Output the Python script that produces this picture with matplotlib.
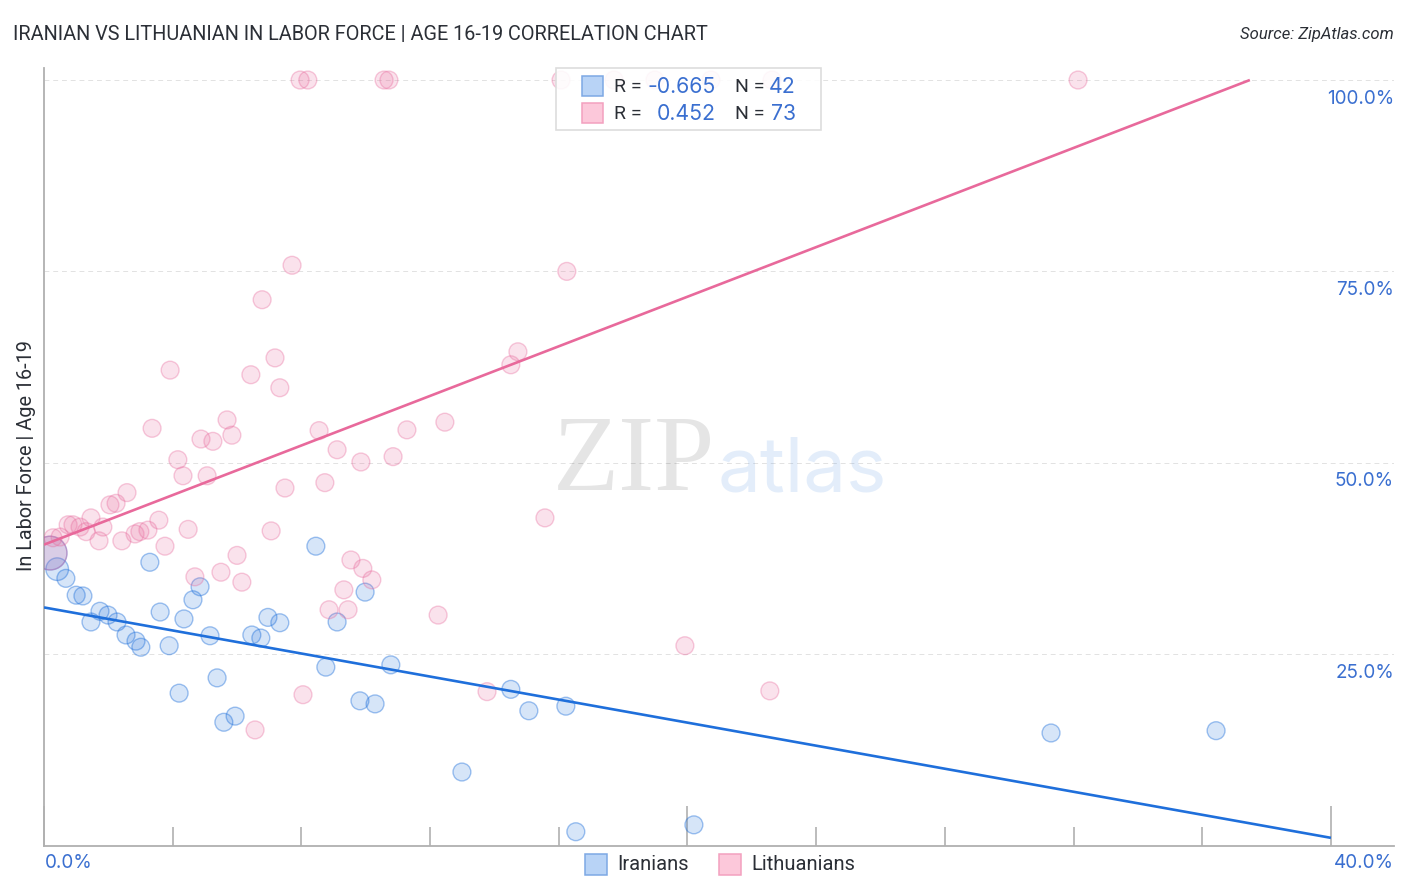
import numpy as np
import matplotlib
matplotlib.use("Agg")
import matplotlib.pyplot as plt
from matplotlib.patches import Rectangle

# ---- data ----
iranian_x = [0.19,0.41,0.68,1.0,1.21,1.46,1.74,1.99,2.27,2.55,2.86,3.01,3.29,3.61,3.89,4.2,4.35,4.63,4.85,5.16,5.38,5.59,5.94,6.46,6.74,6.96,7.33,8.45,8.76,9.11,9.82,9.98,10.29,10.78,12.99,14.51,15.07,16.22,16.53,20.2,31.3,36.43]
iranian_y = [38.2,36.1,34.9,32.7,32.6,29.2,30.6,30.1,29.2,27.5,26.7,25.9,37.0,30.5,26.1,19.9,29.6,32.1,33.8,27.4,21.9,16.1,16.9,27.5,27.1,29.8,29.1,39.1,23.3,29.2,18.9,33.1,18.5,23.6,9.6,20.4,17.6,18.2,1.8,2.7,14.7,15.0]
lith_x = [0.19,0.28,0.5,2.58,2.05,2.24,1.46,0.75,0.9,1.12,1.31,1.83,1.71,2.42,2.83,2.98,3.23,3.57,3.76,
          7.71,6.78,16.25,7.18,6.43,7.33,3.92,14.73,14.51,5.69,3.36,5.84,4.88,5.25,8.55,12.46,11.28,9.11,9.85,10.85,4.16,4.32,5.07,8.73,7.49,15.57,4.48,7.06,19.92,22.56,13.77,12.25,10.19,9.91,9.54,9.32,8.86,9.45,5.5,6.0,6.15,4.69,6.56,8.05,
          7.96,8.2,10.57,10.72,16.07,17.72,18.99,20.73,22.63,32.14]
lith_y = [38.2,40.2,40.3,46.1,44.5,44.7,42.8,41.9,41.9,41.6,41.0,41.6,39.8,39.8,40.7,41.0,41.2,42.5,39.1,
          75.8,71.3,75.0,63.7,61.5,59.8,62.1,64.5,62.8,55.6,54.5,53.6,53.1,52.8,54.2,55.3,54.3,51.7,50.1,50.8,50.4,48.3,48.3,47.4,46.7,42.8,41.3,41.1,26.1,20.2,20.1,30.1,34.7,36.2,37.3,33.4,30.8,30.8,35.7,37.9,34.4,35.1,15.1,19.7,
          100,100,100,100,100,100,100,100,100,100]
iranian_fit_x = [0, 40]
iranian_fit_y = [31.1, 1.0]
lith_fit_x = [0, 37.48]
lith_fit_y = [39.3, 100]
y_ticks = [25, 50, 75, 100]
y_tick_labels = ["25.0%", "50.0%", "75.0%", "100.0%"]
x_ticks_minor = [4, 8, 12, 16, 24, 28, 32, 36]
x_ticks_major = [0, 20, 40]
title = "IRANIAN VS LITHUANIAN IN LABOR FORCE | AGE 16-19 CORRELATION CHART"
source = "Source: ZipAtlas.com"
ylabel = "In Labor Force | Age 16-19"

W, H = 1406, 892
BLUE = "#1f6fdb"
PINK = "#e8699b"
TXT_BLUE = "#3a6fd0"
DARK = "#2b2f36"
GREY = "#b0b0b0"

fig = plt.figure(figsize=(W/100, H/100), dpi=100, facecolor="white")
ax = fig.add_axes([44/W, 1-845.5/H, (1394-44)/W, (845.5-68)/H])
ax.set_xlim(0, 41.96)
ax.set_ylim(0, 101.57)
for s in ("top", "right"):
    ax.spines[s].set_visible(False)
for s in ("left", "bottom"):
    ax.spines[s].set_color(GREY)
    ax.spines[s].set_linewidth(1.3)

ax.set_yticks(y_ticks)
ax.set_yticklabels([])
ax.tick_params(axis="y", length=0)
ax.set_xticks(x_ticks_major)
ax.set_xticklabels([])
ax.set_xticks(x_ticks_minor, minor=True)
ax.tick_params(axis="x", which="major", direction="in", length=29, color=GREY, width=1.2)
ax.tick_params(axis="x", which="minor", direction="in", length=14, color=GREY, width=1.2)
ax.grid(axis="y", color="#e2e2e2", linestyle=(0, (5, 4)), linewidth=0.7)
ax.set_axisbelow(True)

def ftext(px, py, s, **kw):
    return fig.text(px/W, 1-py/H, s, **kw)

def frect(px, py, w, h, **kw):
    r = Rectangle((px/W, 1-(py+h)/H), w/W, h/H, transform=fig.transFigure, **kw)
    fig.add_artist(r)
    return r

# watermark
ftext(634, 490, "ZIP", family="Liberation Serif", fontsize=78, color="#000000", alpha=0.10,
      ha="center", va="baseline", zorder=1)
ftext(802, 491, "atlas", family="Inter", fontsize=55, color="#2a78dc", alpha=0.13,
      ha="center", va="baseline", zorder=1)

def sizes(n, big=None):
    s = np.full(n, 165.0)
    for i, v in (big or {}).items():
        s[i] = v
    return s

ax.scatter(iranian_x, iranian_y, s=sizes(len(iranian_x), {0: 590, 1: 265}),
           facecolor=(0.12, 0.44, 0.86, 0.18), edgecolor=(0.12, 0.44, 0.86, 0.42), linewidth=1.0, zorder=3)
ax.scatter(lith_x, lith_y, s=sizes(len(lith_x), {0: 590}),
           facecolor=(0.91, 0.41, 0.61, 0.19), edgecolor=(0.91, 0.41, 0.61, 0.35), linewidth=1.0, zorder=3)
ax.plot(iranian_fit_x, iranian_fit_y, color=BLUE, lw=1.9, zorder=4, solid_capstyle="butt")
ax.plot(lith_fit_x, lith_fit_y, color=PINK, lw=1.9, zorder=4, solid_capstyle="butt")

# y tick labels inside right edge, below each gridline
for v, lab in zip(y_ticks, y_tick_labels):
    ax.annotate(lab, xy=(1, v), xycoords=("axes fraction", "data"), xytext=(0, -13.4),
                textcoords="offset points", ha="right", va="center", family="Inter",
                fontsize=13.6, color=TXT_BLUE, zorder=6)

ftext(68.5, 863.5, "0.0%", ha="center", va="center", family="Inter", fontsize=13.6, color=TXT_BLUE)
ftext(1363.5, 863.5, "40.0%", ha="center", va="center", family="Inter", fontsize=13.6, color=TXT_BLUE)

ftext(13, 34, title, ha="left", va="center", family="Roboto", fontsize=14.35, color=DARK)
ftext(1394, 34, source, ha="right", va="center", family="Roboto", style="italic", fontsize=12, color=DARK)
ftext(27, 456, ylabel, ha="center", va="center", rotation=90, family="Roboto", fontsize=14.35, color=DARK)

# stats box
frect(556, 68, 265, 62, facecolor=(1, 1, 1, 0.88), edgecolor="#dddddd", linewidth=1.2, zorder=10)
SQ_B = dict(facecolor="#b8d3f6", edgecolor="#7da8e4", linewidth=1.1, zorder=11)
SQ_P = dict(facecolor="#fcc8da", edgecolor="#f3a0bf", linewidth=1.1, zorder=11)
frect(582, 76, 21, 20, **SQ_B)
frect(582, 103, 21, 20, **SQ_P)
rows = [(87, "-0.665", "42"), (114, "0.452", "73")]
for py, r, n in rows:
    ftext(614, py, "R =", ha="left", va="center", family="Roboto", fontsize=14, color=DARK, zorder=12)
    ftext(716, py, r, ha="right", va="center", family="Inter", fontsize=15.3, color=TXT_BLUE, zorder=12)
    ftext(735, py, "N =", ha="left", va="center", family="Roboto", fontsize=14, color=DARK, zorder=12)
    ftext(796, py, n, ha="right", va="center", family="Inter", fontsize=15.3, color=TXT_BLUE, zorder=12)

# bottom legend
frect(585, 854, 22, 21, **SQ_B)
frect(719, 854, 22, 21, **SQ_P)
ftext(617, 864.5, "Iranians", ha="left", va="center", family="Roboto", fontsize=14.5, color=DARK)
ftext(751, 864.5, "Lithuanians", ha="left", va="center", family="Roboto", fontsize=14.5, color=DARK)

fig.savefig("out.png", dpi=100, facecolor="white")
